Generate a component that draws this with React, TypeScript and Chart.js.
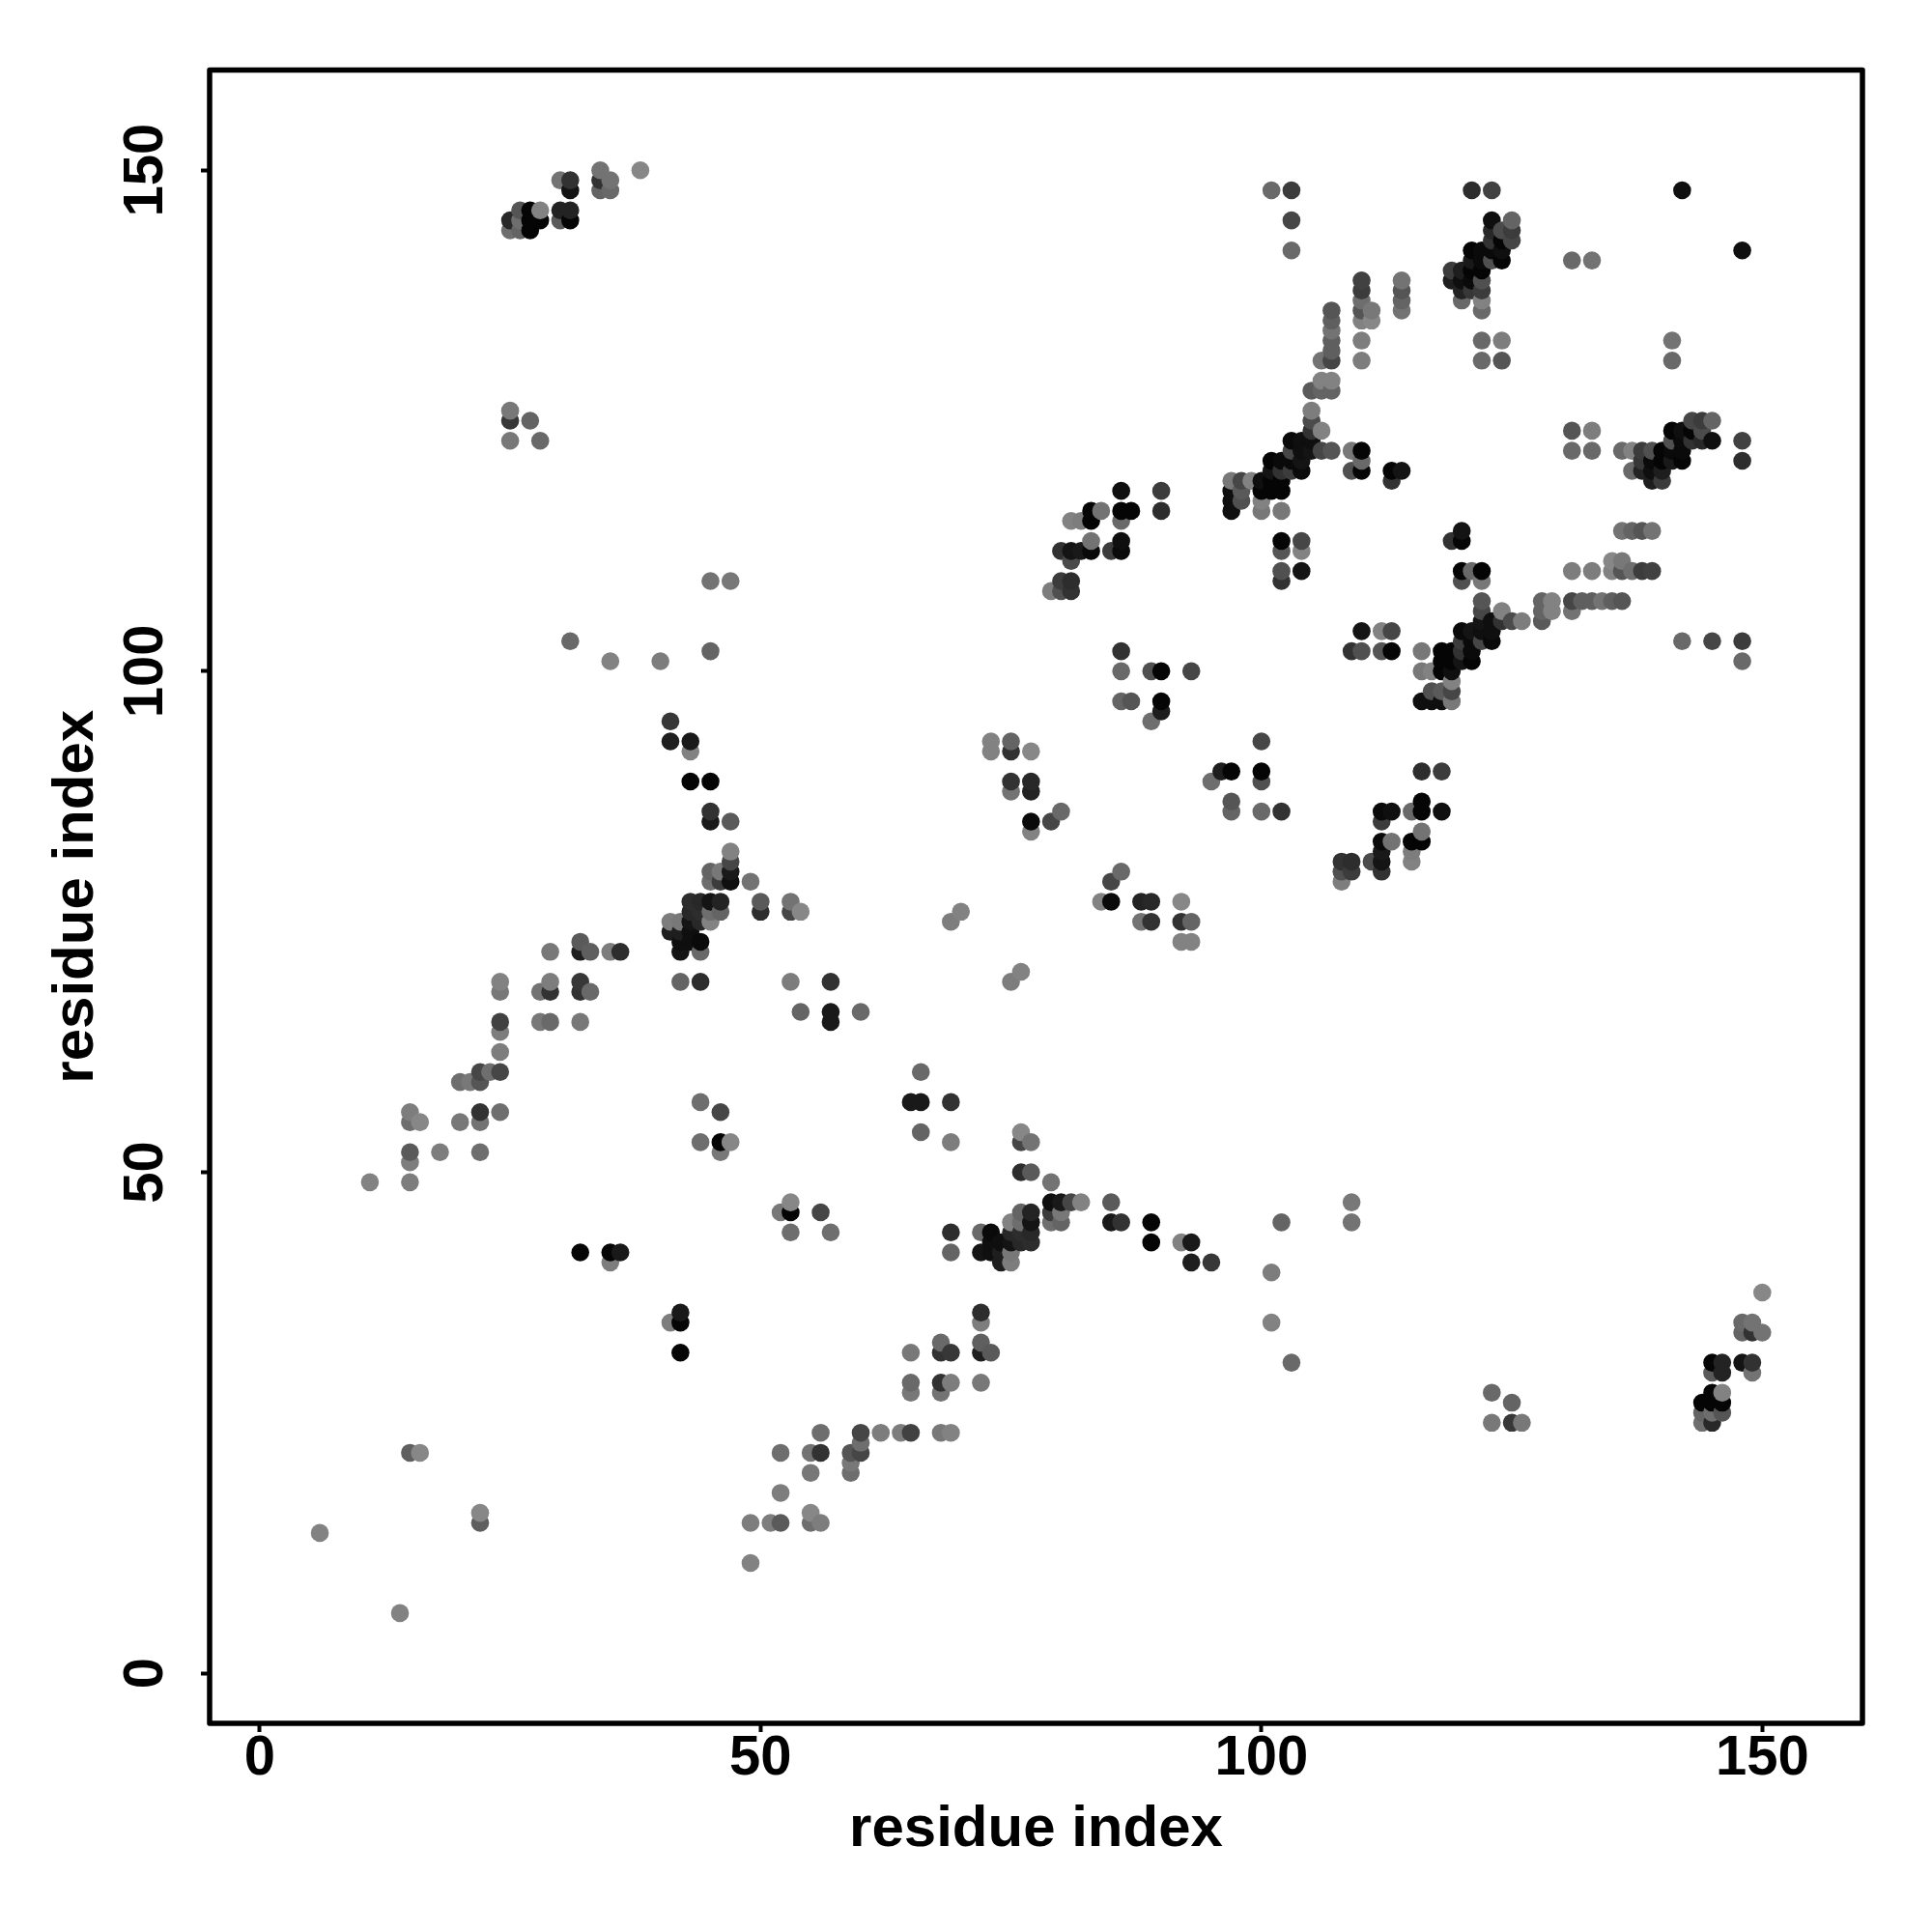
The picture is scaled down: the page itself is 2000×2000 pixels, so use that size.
import React, { useEffect, useRef } from "react";
import { Chart, registerables } from "chart.js";

Chart.register(...registerables);

// Each contact: [residue i, residue j, grey level]; the map is symmetric, i > j listed.
const contactsLow: number[][] = [
  [14,6,130],[22,15,95],[22,16,135],[41,35,125],[42,32,5],[42,35,5],[42,36,25],
  [49,11,130],[49,15,125],[51,15,125],[52,15,90],[52,18,125],[52,22,110],[52,46,120],
  [53,44,110],[53,46,5],[53,47,135],[55,15,110],[55,16,135],[55,20,120],[55,22,115],
  [56,15,125],[56,22,50],[56,24,110],[56,46,70],[57,44,110],[59,20,110],[59,21,120],[59,22,85],
  [60,22,70],[60,23,110],[60,24,70],[62,24,125],[64,24,125],[65,24,65],[65,28,120],[65,29,105],
  [65,32,120],[65,57,25],[66,54,100],[66,57,25],[66,60,105],[68,24,120],[68,28,115],[68,29,50],
  [68,32,50],[68,33,105],[69,24,130],[69,29,125],[69,32,55],[69,42,100],[69,44,45],[69,53,125],[69,57,50],
];
const contactsMid: number[][] = [
  [72,29,120],[72,32,30],[72,33,95],[72,35,125],[72,36,45],[72,42,20],[72,44,105],
  [73,32,90],[73,42,15],[73,43,15],[73,44,10],[74,41,30],[74,42,30],[74,43,15],
  [75,41,125],[75,42,120],[75,43,20],[75,44,40],[75,45,130],[75,69,125],
  [76,43,40],[76,44,45],[76,45,110],[76,46,100],[76,50,45],[76,53,70],[76,54,135],[76,70,130],
  [77,43,45],[77,44,40],[77,45,20],[77,46,35],[77,50,90],[77,53,115],
  [79,45,110],[79,46,60],[79,47,15],[79,49,115],[80,45,100],[80,46,120],[80,47,25],[81,47,70],[82,47,130],
  [84,77,130],[85,45,25],[85,47,90],[85,77,10],[85,79,70],[86,45,50],[86,80,105],
  [88,75,115],[88,77,35],[89,43,5],[89,45,5],[89,75,50],[89,77,40],
  [92,43,130],[92,73,130],[92,75,50],[92,77,135],[93,41,30],[93,43,25],[93,73,130],[93,75,100],
  [95,41,55],[95,89,110],[96,90,30],[97,86,100],[97,87,85],[97,90,5],
  [100,86,105],[100,89,80],[100,90,5],[100,93,70],[101,35,130],[101,40,125],[102,45,100],[102,86,50],[103,31,105],
];
const contactsHigh: number[][] = [
  [108,79,125],[108,80,80],[108,81,50],[109,45,115],[109,47,120],[109,80,60],[109,81,45],[109,102,50],
  [110,102,80],[110,104,20],[111,81,75],[112,80,50],[112,81,20],[112,82,25],[112,83,10],[112,85,60],
  [112,86,10],[112,102,85],[112,104,130],[113,83,115],[113,86,15],[113,102,5],[113,104,70],
  [115,81,130],[115,82,125],[115,83,5],[115,86,105],[116,83,5],[116,84,115],[116,86,5],[116,87,5],
  [116,90,45],[116,97,15],[116,100,120],[116,102,120],[117,97,15],[117,98,80],[117,100,130],
  [118,86,15],[118,90,60],[118,97,15],[118,98,90],[118,100,5],[118,101,5],[118,102,5],
  [119,97,120],[119,98,70],[119,99,130],[119,100,15],[119,101,5],[119,102,5],[119,113,50],
  [120,101,20],[120,102,50],[120,103,60],[120,104,10],[120,109,80],[120,110,5],[120,113,5],[120,114,20],
  [121,101,5],[121,102,10],[121,103,10],[121,104,20],[121,110,105],
  [122,103,70],[122,104,15],[122,105,20],[122,106,70],[122,107,85],[122,109,120],[122,110,5],
  [123,25,120],[123,28,105],[123,103,10],[123,104,15],[123,105,15],[124,105,50],[124,106,130],
  [125,25,55],[125,27,100],[125,105,75],[126,25,120],[126,105,125],
];
const contactsTop: number[][] = [
  [128,105,90],[128,106,100],[128,107,100],[129,106,130],[129,107,130],
  [131,106,115],[131,107,70],[131,110,125],[131,122,105],[131,124,85],[132,107,95],[133,107,95],
  [133,110,125],[133,122,105],[133,124,125],[134,107,115],[135,107,95],[135,110,130],[135,111,135],
  [136,107,85],[136,110,85],[136,111,120],[136,114,115],[136,122,105],[137,110,110],[137,114,100],
  [137,120,105],[137,122,130],[138,110,60],[138,114,85],[138,120,35],[138,121,55],[138,122,60],
  [139,110,65],[139,114,115],[139,119,30],[139,120,15],[139,121,10],[139,122,80],
  [140,119,60],[140,120,30],[140,121,5],[140,122,5],[141,121,25],[141,122,10],[141,123,80],[141,124,5],
  [141,131,105],[141,133,115],[142,103,105],[142,121,5],[142,122,10],[142,123,10],[142,124,15],
  [143,123,50],[143,124,5],[143,125,70],[144,25,110],[144,26,100],[144,27,5],[144,123,40],[144,124,75],[144,125,60],
  [145,25,40],[145,26,110],[145,27,5],[145,28,5],[145,30,90],[145,31,5],[145,103,70],[145,123,15],[145,125,100],
  [146,26,85],[146,27,5],[146,28,130],[146,30,35],[146,31,35],
  [148,31,20],[148,34,100],[148,35,105],[148,101,105],[148,103,60],[148,121,45],[148,123,65],[148,142,15],
  [149,30,115],[149,31,50],[149,34,50],[149,35,115],[150,34,115],[150,38,135],
];
const tickValues = [0, 50, 100, 150];
const axisTitle = "residue index";

const FONT = '"Liberation Sans", Arial, sans-serif';

export default function App() {
  const ref = useRef<HTMLCanvasElement>(null);
  useEffect(() => {
    const listed = [...contactsLow, ...contactsMid, ...contactsHigh, ...contactsTop];
    const both = listed.flatMap(([i, j, g]) => [
      { x: i, y: j, g },
      { x: j, y: i, g },
    ]);
    both.sort((a, b) => a.x - b.x || a.y - b.y);

    const boxPlugin = {
      id: "box",
      afterDatasetsDraw(chart: any) {
        const { ctx, chartArea: a } = chart;
        ctx.save();
        ctx.lineWidth = 5.5;
        ctx.strokeStyle = "#000";
        ctx.lineJoin = "round";
        ctx.strokeRect(a.left, a.top, a.right - a.left, a.bottom - a.top);
        ctx.restore();
      },
    };
    const setTicks = (scale: any) => {
      scale.ticks = tickValues.map((v) => ({ value: v }));
    };
    const tickFont = { family: FONT, size: 58, weight: "bold" as const };
    const titleFont = { family: FONT, size: 60, weight: "bold" as const };

    const chart = new Chart(ref.current!, {
      type: "scatter",
      data: {
        datasets: [
          {
            data: both.map((p) => ({ x: p.x, y: p.y })),
            pointBackgroundColor: both.map((p) => `rgb(${p.g},${p.g},${p.g})`),
            pointBorderWidth: 0,
            pointRadius: 9.3,
            showLine: false,
          },
        ],
      },
      options: {
        animation: false,
        responsive: false,
        devicePixelRatio: 1,
        layout: { padding: { top: 72.5, right: 72, left: 0, bottom: 0 } },
        plugins: { legend: { display: false }, tooltip: { enabled: false } },
        scales: {
          x: {
            type: "linear",
            min: -5,
            max: 160,
            afterBuildTicks: setTicks,
            afterFit: (s: any) => { s.height = 216; },
            grid: { drawOnChartArea: false, drawTicks: true, tickLength: 9, tickWidth: 4, tickColor: "#000" },
            border: { display: false },
            ticks: { color: "#000", font: tickFont, padding: -7, maxRotation: 0, minRotation: 0, autoSkip: false },
            title: {
              display: true,
              text: axisTitle,
              color: "#000",
              font: titleFont,
              padding: { top: 0, bottom: 70 },
            },
          },
          y: {
            type: "linear",
            min: -5,
            max: 160,
            afterBuildTicks: setTicks,
            afterFit: (s: any) => { s.width = 217; },
            grid: { drawOnChartArea: false, drawTicks: true, tickLength: 9, tickWidth: 4, tickColor: "#000" },
            border: { display: false },
            ticks: { color: "#000", font: tickFont, padding: 8, crossAlign: "center", maxRotation: 90, minRotation: 90, autoSkip: false },
            title: {
              display: true,
              text: axisTitle,
              color: "#000",
              font: titleFont,
              padding: { top: 43, bottom: 0 },
            },
          },
        },
      } as any,
      plugins: [boxPlugin],
    });
    return () => chart.destroy();
  }, []);
  return (
    <div style={{ position: "absolute", left: 0, top: 0, width: 2000, height: 2000, background: "#fff" }}>
      <canvas ref={ref} width={2000} height={2000} style={{ display: "block" }} />
    </div>
  );
}
